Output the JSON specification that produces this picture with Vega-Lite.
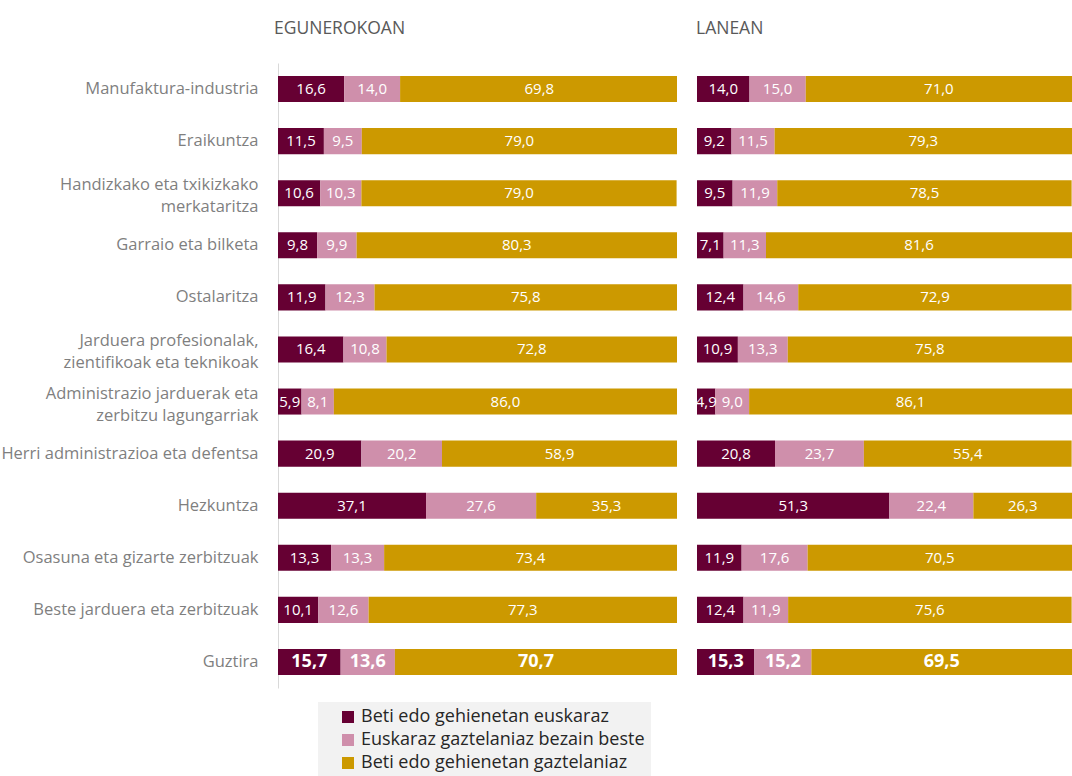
{
  "$schema": "https://vega.github.io/schema/vega-lite/v6.json",
  "padding": {"left": 0, "top": 19, "right": 0, "bottom": 0},
  "autosize": {"type": "pad"},
  "config": {
    "locale": {"number": {"decimal": ",", "thousands": ".", "grouping": [3], "currency": ["", " €"]}},
    "font": "Open Sans",
    "view": {"stroke": null},
    "concat": {"spacing": 18},
    "title": {"anchor": "start", "frame": "group", "fontSize": 17.5, "fontWeight": "normal", "color": "#595959", "offset": 26},
    "legend": {
      "orient": "none",
      "legendX": 40,
      "legendY": 639,
      "direction": "vertical",
      "symbolType": "square",
      "symbolSize": 144,
      "symbolStrokeWidth": 0,
      "labelFontSize": 18,
      "labelColor": "#262626",
      "fillColor": "#F2F2F2",
      "padding": 6,
      "symbolOffset": 15,
      "rowPadding": 5,
      "labelOffset": 4,
      "labelLimit": 400
    }
  },
  "data": {
    "values": [
      {"panel": "EGUNEROKOAN", "cat": "Manufaktura-industria", "k": 1, "series": "Beti edo gehienetan euskaraz", "v": 16.6},
      {"panel": "EGUNEROKOAN", "cat": "Manufaktura-industria", "k": 2, "series": "Euskaraz gaztelaniaz bezain beste", "v": 14.0},
      {"panel": "EGUNEROKOAN", "cat": "Manufaktura-industria", "k": 3, "series": "Beti edo gehienetan gaztelaniaz", "v": 69.8},
      {"panel": "EGUNEROKOAN", "cat": "Eraikuntza", "k": 1, "series": "Beti edo gehienetan euskaraz", "v": 11.5},
      {"panel": "EGUNEROKOAN", "cat": "Eraikuntza", "k": 2, "series": "Euskaraz gaztelaniaz bezain beste", "v": 9.5},
      {"panel": "EGUNEROKOAN", "cat": "Eraikuntza", "k": 3, "series": "Beti edo gehienetan gaztelaniaz", "v": 79.0},
      {"panel": "EGUNEROKOAN", "cat": "Handizkako eta txikizkako|merkataritza", "k": 1, "series": "Beti edo gehienetan euskaraz", "v": 10.6},
      {"panel": "EGUNEROKOAN", "cat": "Handizkako eta txikizkako|merkataritza", "k": 2, "series": "Euskaraz gaztelaniaz bezain beste", "v": 10.3},
      {"panel": "EGUNEROKOAN", "cat": "Handizkako eta txikizkako|merkataritza", "k": 3, "series": "Beti edo gehienetan gaztelaniaz", "v": 79.0},
      {"panel": "EGUNEROKOAN", "cat": "Garraio eta bilketa", "k": 1, "series": "Beti edo gehienetan euskaraz", "v": 9.8},
      {"panel": "EGUNEROKOAN", "cat": "Garraio eta bilketa", "k": 2, "series": "Euskaraz gaztelaniaz bezain beste", "v": 9.9},
      {"panel": "EGUNEROKOAN", "cat": "Garraio eta bilketa", "k": 3, "series": "Beti edo gehienetan gaztelaniaz", "v": 80.3},
      {"panel": "EGUNEROKOAN", "cat": "Ostalaritza", "k": 1, "series": "Beti edo gehienetan euskaraz", "v": 11.9},
      {"panel": "EGUNEROKOAN", "cat": "Ostalaritza", "k": 2, "series": "Euskaraz gaztelaniaz bezain beste", "v": 12.3},
      {"panel": "EGUNEROKOAN", "cat": "Ostalaritza", "k": 3, "series": "Beti edo gehienetan gaztelaniaz", "v": 75.8},
      {"panel": "EGUNEROKOAN", "cat": "Jarduera profesionalak,|zientifikoak eta teknikoak", "k": 1, "series": "Beti edo gehienetan euskaraz", "v": 16.4},
      {"panel": "EGUNEROKOAN", "cat": "Jarduera profesionalak,|zientifikoak eta teknikoak", "k": 2, "series": "Euskaraz gaztelaniaz bezain beste", "v": 10.8},
      {"panel": "EGUNEROKOAN", "cat": "Jarduera profesionalak,|zientifikoak eta teknikoak", "k": 3, "series": "Beti edo gehienetan gaztelaniaz", "v": 72.8},
      {"panel": "EGUNEROKOAN", "cat": "Administrazio jarduerak eta|zerbitzu lagungarriak", "k": 1, "series": "Beti edo gehienetan euskaraz", "v": 5.9},
      {"panel": "EGUNEROKOAN", "cat": "Administrazio jarduerak eta|zerbitzu lagungarriak", "k": 2, "series": "Euskaraz gaztelaniaz bezain beste", "v": 8.1},
      {"panel": "EGUNEROKOAN", "cat": "Administrazio jarduerak eta|zerbitzu lagungarriak", "k": 3, "series": "Beti edo gehienetan gaztelaniaz", "v": 86.0},
      {"panel": "EGUNEROKOAN", "cat": "Herri administrazioa eta defentsa", "k": 1, "series": "Beti edo gehienetan euskaraz", "v": 20.9},
      {"panel": "EGUNEROKOAN", "cat": "Herri administrazioa eta defentsa", "k": 2, "series": "Euskaraz gaztelaniaz bezain beste", "v": 20.2},
      {"panel": "EGUNEROKOAN", "cat": "Herri administrazioa eta defentsa", "k": 3, "series": "Beti edo gehienetan gaztelaniaz", "v": 58.9},
      {"panel": "EGUNEROKOAN", "cat": "Hezkuntza", "k": 1, "series": "Beti edo gehienetan euskaraz", "v": 37.1},
      {"panel": "EGUNEROKOAN", "cat": "Hezkuntza", "k": 2, "series": "Euskaraz gaztelaniaz bezain beste", "v": 27.6},
      {"panel": "EGUNEROKOAN", "cat": "Hezkuntza", "k": 3, "series": "Beti edo gehienetan gaztelaniaz", "v": 35.3},
      {"panel": "EGUNEROKOAN", "cat": "Osasuna eta gizarte zerbitzuak", "k": 1, "series": "Beti edo gehienetan euskaraz", "v": 13.3},
      {"panel": "EGUNEROKOAN", "cat": "Osasuna eta gizarte zerbitzuak", "k": 2, "series": "Euskaraz gaztelaniaz bezain beste", "v": 13.3},
      {"panel": "EGUNEROKOAN", "cat": "Osasuna eta gizarte zerbitzuak", "k": 3, "series": "Beti edo gehienetan gaztelaniaz", "v": 73.4},
      {"panel": "EGUNEROKOAN", "cat": "Beste jarduera eta zerbitzuak", "k": 1, "series": "Beti edo gehienetan euskaraz", "v": 10.1},
      {"panel": "EGUNEROKOAN", "cat": "Beste jarduera eta zerbitzuak", "k": 2, "series": "Euskaraz gaztelaniaz bezain beste", "v": 12.6},
      {"panel": "EGUNEROKOAN", "cat": "Beste jarduera eta zerbitzuak", "k": 3, "series": "Beti edo gehienetan gaztelaniaz", "v": 77.3},
      {"panel": "EGUNEROKOAN", "cat": "Guztira", "k": 1, "series": "Beti edo gehienetan euskaraz", "v": 15.7},
      {"panel": "EGUNEROKOAN", "cat": "Guztira", "k": 2, "series": "Euskaraz gaztelaniaz bezain beste", "v": 13.6},
      {"panel": "EGUNEROKOAN", "cat": "Guztira", "k": 3, "series": "Beti edo gehienetan gaztelaniaz", "v": 70.7},
      {"panel": "LANEAN", "cat": "Manufaktura-industria", "k": 1, "series": "Beti edo gehienetan euskaraz", "v": 14.0},
      {"panel": "LANEAN", "cat": "Manufaktura-industria", "k": 2, "series": "Euskaraz gaztelaniaz bezain beste", "v": 15.0},
      {"panel": "LANEAN", "cat": "Manufaktura-industria", "k": 3, "series": "Beti edo gehienetan gaztelaniaz", "v": 71.0},
      {"panel": "LANEAN", "cat": "Eraikuntza", "k": 1, "series": "Beti edo gehienetan euskaraz", "v": 9.2},
      {"panel": "LANEAN", "cat": "Eraikuntza", "k": 2, "series": "Euskaraz gaztelaniaz bezain beste", "v": 11.5},
      {"panel": "LANEAN", "cat": "Eraikuntza", "k": 3, "series": "Beti edo gehienetan gaztelaniaz", "v": 79.3},
      {"panel": "LANEAN", "cat": "Handizkako eta txikizkako|merkataritza", "k": 1, "series": "Beti edo gehienetan euskaraz", "v": 9.5},
      {"panel": "LANEAN", "cat": "Handizkako eta txikizkako|merkataritza", "k": 2, "series": "Euskaraz gaztelaniaz bezain beste", "v": 11.9},
      {"panel": "LANEAN", "cat": "Handizkako eta txikizkako|merkataritza", "k": 3, "series": "Beti edo gehienetan gaztelaniaz", "v": 78.5},
      {"panel": "LANEAN", "cat": "Garraio eta bilketa", "k": 1, "series": "Beti edo gehienetan euskaraz", "v": 7.1},
      {"panel": "LANEAN", "cat": "Garraio eta bilketa", "k": 2, "series": "Euskaraz gaztelaniaz bezain beste", "v": 11.3},
      {"panel": "LANEAN", "cat": "Garraio eta bilketa", "k": 3, "series": "Beti edo gehienetan gaztelaniaz", "v": 81.6},
      {"panel": "LANEAN", "cat": "Ostalaritza", "k": 1, "series": "Beti edo gehienetan euskaraz", "v": 12.4},
      {"panel": "LANEAN", "cat": "Ostalaritza", "k": 2, "series": "Euskaraz gaztelaniaz bezain beste", "v": 14.6},
      {"panel": "LANEAN", "cat": "Ostalaritza", "k": 3, "series": "Beti edo gehienetan gaztelaniaz", "v": 72.9},
      {"panel": "LANEAN", "cat": "Jarduera profesionalak,|zientifikoak eta teknikoak", "k": 1, "series": "Beti edo gehienetan euskaraz", "v": 10.9},
      {"panel": "LANEAN", "cat": "Jarduera profesionalak,|zientifikoak eta teknikoak", "k": 2, "series": "Euskaraz gaztelaniaz bezain beste", "v": 13.3},
      {"panel": "LANEAN", "cat": "Jarduera profesionalak,|zientifikoak eta teknikoak", "k": 3, "series": "Beti edo gehienetan gaztelaniaz", "v": 75.8},
      {"panel": "LANEAN", "cat": "Administrazio jarduerak eta|zerbitzu lagungarriak", "k": 1, "series": "Beti edo gehienetan euskaraz", "v": 4.9},
      {"panel": "LANEAN", "cat": "Administrazio jarduerak eta|zerbitzu lagungarriak", "k": 2, "series": "Euskaraz gaztelaniaz bezain beste", "v": 9.0},
      {"panel": "LANEAN", "cat": "Administrazio jarduerak eta|zerbitzu lagungarriak", "k": 3, "series": "Beti edo gehienetan gaztelaniaz", "v": 86.1},
      {"panel": "LANEAN", "cat": "Herri administrazioa eta defentsa", "k": 1, "series": "Beti edo gehienetan euskaraz", "v": 20.8},
      {"panel": "LANEAN", "cat": "Herri administrazioa eta defentsa", "k": 2, "series": "Euskaraz gaztelaniaz bezain beste", "v": 23.7},
      {"panel": "LANEAN", "cat": "Herri administrazioa eta defentsa", "k": 3, "series": "Beti edo gehienetan gaztelaniaz", "v": 55.4},
      {"panel": "LANEAN", "cat": "Hezkuntza", "k": 1, "series": "Beti edo gehienetan euskaraz", "v": 51.3},
      {"panel": "LANEAN", "cat": "Hezkuntza", "k": 2, "series": "Euskaraz gaztelaniaz bezain beste", "v": 22.4},
      {"panel": "LANEAN", "cat": "Hezkuntza", "k": 3, "series": "Beti edo gehienetan gaztelaniaz", "v": 26.3},
      {"panel": "LANEAN", "cat": "Osasuna eta gizarte zerbitzuak", "k": 1, "series": "Beti edo gehienetan euskaraz", "v": 11.9},
      {"panel": "LANEAN", "cat": "Osasuna eta gizarte zerbitzuak", "k": 2, "series": "Euskaraz gaztelaniaz bezain beste", "v": 17.6},
      {"panel": "LANEAN", "cat": "Osasuna eta gizarte zerbitzuak", "k": 3, "series": "Beti edo gehienetan gaztelaniaz", "v": 70.5},
      {"panel": "LANEAN", "cat": "Beste jarduera eta zerbitzuak", "k": 1, "series": "Beti edo gehienetan euskaraz", "v": 12.4},
      {"panel": "LANEAN", "cat": "Beste jarduera eta zerbitzuak", "k": 2, "series": "Euskaraz gaztelaniaz bezain beste", "v": 11.9},
      {"panel": "LANEAN", "cat": "Beste jarduera eta zerbitzuak", "k": 3, "series": "Beti edo gehienetan gaztelaniaz", "v": 75.6},
      {"panel": "LANEAN", "cat": "Guztira", "k": 1, "series": "Beti edo gehienetan euskaraz", "v": 15.3},
      {"panel": "LANEAN", "cat": "Guztira", "k": 2, "series": "Euskaraz gaztelaniaz bezain beste", "v": 15.2},
      {"panel": "LANEAN", "cat": "Guztira", "k": 3, "series": "Beti edo gehienetan gaztelaniaz", "v": 69.5}
    ]
  },
  "hconcat": [
    {
      "width": 399,
      "height": 625,
      "title": {"text": "EGUNEROKOAN", "dx": -4},
      "transform": [
        {"filter": "datum.panel === 'EGUNEROKOAN'"},
        {"stack": "v", "groupby": ["cat"], "sort": [{"field": "k", "order": "ascending"}], "as": ["x0", "x1"]},
        {"calculate": "(datum.x0 + datum.x1) / 2", "as": "xm"}
      ],
      "encoding": {
        "y": {
          "field": "cat",
          "type": "nominal",
          "sort": ["Manufaktura-industria", "Eraikuntza", "Handizkako eta txikizkako|merkataritza", "Garraio eta bilketa", "Ostalaritza", "Jarduera profesionalak,|zientifikoak eta teknikoak", "Administrazio jarduerak eta|zerbitzu lagungarriak", "Herri administrazioa eta defentsa", "Hezkuntza", "Osasuna eta gizarte zerbitzuak", "Beste jarduera eta zerbitzuak", "Guztira"],
          "scale": {"paddingInner": 0.5, "paddingOuter": 0.25},
          "axis": {
            "title": null,
            "labelExpr": "split(datum.label, '|')",
            "labelFontSize": 16.5,
            "labelColor": "#7F7F7F",
            "labelPadding": 20,
            "labelLineHeight": 22,
            "labelLimit": 300,
            "labelOffset": {"condition": {"test": "indexof(datum.value, '|') >= 0", "value": -8}, "value": 0},
            "ticks": false,
            "domainColor": "#D9D9D9",
            "domainWidth": 1,
            "minExtent": 277,
            "maxExtent": 277
          }
        }
      },
      "layer": [
        {
          "mark": {"type": "bar", "clip": true},
          "encoding": {
            "x": {"field": "x0", "type": "quantitative", "scale": {"domain": [0, 100], "nice": false}, "axis": null},
            "x2": {"field": "x1"},
            "color": {
              "field": "series",
              "type": "nominal",
              "scale": {
                "domain": ["Beti edo gehienetan euskaraz", "Euskaraz gaztelaniaz bezain beste", "Beti edo gehienetan gaztelaniaz"],
                "range": ["#660033", "#CF8FAB", "#CC9900"]
              },
              "legend": {"title": null}
            }
          }
        },
        {
          "transform": [{"filter": "datum.cat !== 'Guztira'"}],
          "mark": {"type": "text", "color": "white", "fontSize": 15},
          "encoding": {
            "x": {"field": "xm", "type": "quantitative"},
            "text": {"field": "v", "type": "quantitative", "format": ".1f"}
          }
        },
        {
          "transform": [{"filter": "datum.cat === 'Guztira'"}],
          "mark": {"type": "text", "color": "white", "fontSize": 18, "fontWeight": "bold"},
          "encoding": {
            "x": {"field": "xm", "type": "quantitative"},
            "text": {"field": "v", "type": "quantitative", "format": ".1f"}
          }
        }
      ]
    },
    {
      "width": 375,
      "height": 625,
      "title": {"text": "LANEAN", "dx": -1},
      "transform": [
        {"filter": "datum.panel === 'LANEAN'"},
        {"stack": "v", "groupby": ["cat"], "sort": [{"field": "k", "order": "ascending"}], "as": ["x0", "x1"]},
        {"calculate": "(datum.x0 + datum.x1) / 2", "as": "xm"}
      ],
      "encoding": {
        "y": {
          "field": "cat",
          "type": "nominal",
          "sort": ["Manufaktura-industria", "Eraikuntza", "Handizkako eta txikizkako|merkataritza", "Garraio eta bilketa", "Ostalaritza", "Jarduera profesionalak,|zientifikoak eta teknikoak", "Administrazio jarduerak eta|zerbitzu lagungarriak", "Herri administrazioa eta defentsa", "Hezkuntza", "Osasuna eta gizarte zerbitzuak", "Beste jarduera eta zerbitzuak", "Guztira"],
          "scale": {"paddingInner": 0.5, "paddingOuter": 0.25},
          "axis": null
        }
      },
      "layer": [
        {
          "mark": {"type": "bar", "clip": true},
          "encoding": {
            "x": {"field": "x0", "type": "quantitative", "scale": {"domain": [0, 100], "nice": false}, "axis": null},
            "x2": {"field": "x1"},
            "color": {
              "field": "series",
              "type": "nominal",
              "scale": {
                "domain": ["Beti edo gehienetan euskaraz", "Euskaraz gaztelaniaz bezain beste", "Beti edo gehienetan gaztelaniaz"],
                "range": ["#660033", "#CF8FAB", "#CC9900"]
              },
              "legend": {"title": null}
            }
          }
        },
        {
          "transform": [{"filter": "datum.cat !== 'Guztira'"}],
          "mark": {"type": "text", "color": "white", "fontSize": 15},
          "encoding": {
            "x": {"field": "xm", "type": "quantitative"},
            "text": {"field": "v", "type": "quantitative", "format": ".1f"}
          }
        },
        {
          "transform": [{"filter": "datum.cat === 'Guztira'"}],
          "mark": {"type": "text", "color": "white", "fontSize": 18, "fontWeight": "bold"},
          "encoding": {
            "x": {"field": "xm", "type": "quantitative"},
            "text": {"field": "v", "type": "quantitative", "format": ".1f"}
          }
        }
      ]
    }
  ],
  "resolve": {"scale": {"color": "shared"}}
}
